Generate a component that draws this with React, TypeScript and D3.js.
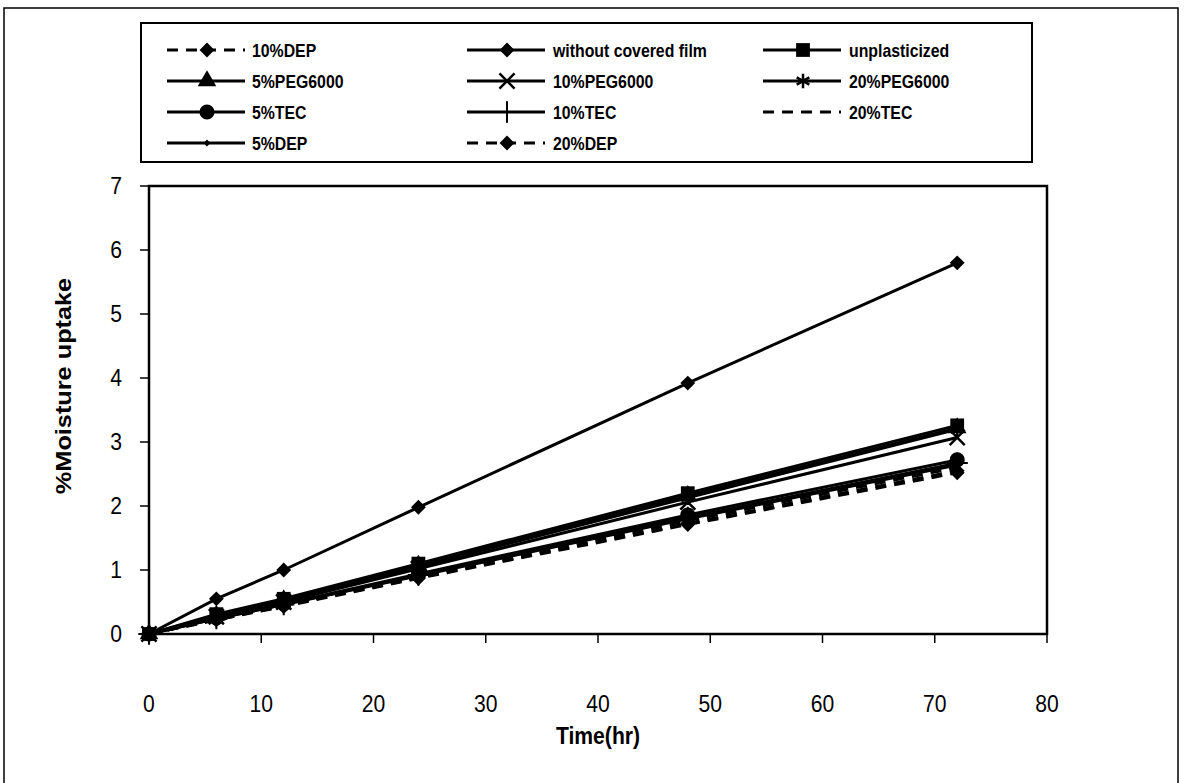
import React from "react";
import * as d3 from "d3";

const timeHr = [0, 6, 12, 24, 48, 72];
const xTicks = [0, 10, 20, 30, 40, 50, 60, 70, 80];
const yTicks = [0, 1, 2, 3, 4, 5, 6, 7];

const withoutFilm = [0, 0.55, 1.0, 1.98, 3.92, 5.8];
const unplasticized = [0, 0.31, 0.55, 1.1, 2.2, 3.26];
const peg5 = [0, 0.29, 0.53, 1.07, 2.16, 3.22];
const peg10 = [0, 0.27, 0.5, 1.02, 2.06, 3.07];
const peg20 = [0, 0.28, 0.52, 1.05, 2.13, 3.2];
const tec5 = [0, 0.25, 0.47, 0.94, 1.86, 2.72];
const tec10 = [0, 0.24, 0.46, 0.92, 1.82, 2.67];
const tec20 = [0, 0.23, 0.45, 0.9, 1.77, 2.6];
const dep5 = [0, 0.24, 0.46, 0.91, 1.8, 2.64];
const dep10 = [0, 0.22, 0.44, 0.88, 1.73, 2.55];
const dep20 = [0, 0.22, 0.43, 0.87, 1.71, 2.52];

type Marker = "diamond" | "square" | "triangle" | "x" | "asterisk" | "circle" | "plus" | "none" | "small";
interface Series { name: string; values: number[]; marker: Marker; dashed: boolean; }

const seriesList: Series[] = [
  { name: "10%DEP", values: dep10, marker: "diamond", dashed: true },
  { name: "without covered film", values: withoutFilm, marker: "diamond", dashed: false },
  { name: "unplasticized", values: unplasticized, marker: "square", dashed: false },
  { name: "5%PEG6000", values: peg5, marker: "triangle", dashed: false },
  { name: "10%PEG6000", values: peg10, marker: "x", dashed: false },
  { name: "20%PEG6000", values: peg20, marker: "asterisk", dashed: false },
  { name: "5%TEC", values: tec5, marker: "circle", dashed: false },
  { name: "10%TEC", values: tec10, marker: "plus", dashed: false },
  { name: "20%TEC", values: tec20, marker: "none", dashed: true },
  { name: "5%DEP", values: dep5, marker: "small", dashed: false },
  { name: "20%DEP", values: dep20, marker: "diamond", dashed: true },
];

const W = 1185;
const H = 783;
const plotL = 149, plotR = 1047, plotT = 186, plotB = 634;

const xScale = d3.scaleLinear().domain([0, 80]).range([plotL, plotR]);
const yScale = d3.scaleLinear().domain([0, 7]).range([plotB, plotT]);

function MarkerShape({ type, x, y }: { type: Marker; x: number; y: number }) {
  const t = `translate(${x},${y})`;
  switch (type) {
    case "diamond":
      return <path transform={t} d={d3.symbol(d3.symbolDiamond2, 140)()!} fill="#000" />;
    case "square":
      return <path transform={t} d={d3.symbol(d3.symbolSquare, 190)()!} fill="#000" />;
    case "triangle":
      return <path transform={t} d={d3.symbol(d3.symbolTriangle, 150)()!} fill="#000" />;
    case "circle":
      return <path transform={t} d={d3.symbol(d3.symbolCircle, 180)()!} fill="#000" />;
    case "x":
      return <path transform={t} d={d3.symbol(d3.symbolX, 150)()!} fill="none" stroke="#000" strokeWidth={2.5} />;
    case "asterisk":
      return <path transform={t} d={d3.symbol(d3.symbolAsterisk, 150)()!} fill="none" stroke="#000" strokeWidth={2.5} />;
    case "plus":
      return <path transform={t} d={d3.symbol(d3.symbolPlus, 150)()!} fill="none" stroke="#000" strokeWidth={2} />;
    case "small":
      return <path transform={t} d={d3.symbol(d3.symbolDiamond2, 30)()!} fill="#000" />;
    default:
      return null;
  }
}

const legendLineX = [167, 467, 763];
const legendTextX = [252, 553, 849];
const legendRows = [50, 81, 112, 143];

export default function App() {
  const line = d3.line<number>().x((_, i) => xScale(timeHr[i])).y((v) => yScale(v));
  const drawOrder = [...seriesList].reverse();
  const font = "Arial, 'Liberation Sans', sans-serif";
  return (
    <svg width={W} height={H} style={{ position: "absolute", left: 0, top: 0, background: "#fff" }}>
      <rect x={0} y={0} width={W} height={H} fill="#fff" />
      {/* outer frame */}
      <rect x={4} y={8} width={1174} height={800} fill="none" stroke="#000" strokeWidth={1.5} />
      {/* legend */}
      <rect x={141} y={23} width={891} height={139} fill="#fff" stroke="#000" strokeWidth={2} />
      {seriesList.map((s, i) => {
        const col = i % 3;
        const row = Math.floor(i / 3);
        const x0 = legendLineX[col];
        const y0 = legendRows[row];
        return (
          <g key={s.name}>
            <line x1={x0} x2={x0 + 78} y1={y0} y2={y0} stroke="#000" strokeWidth={3}
              strokeDasharray={s.dashed ? "11,8" : undefined} />
            <MarkerShape type={s.marker} x={x0 + 40} y={y0} />
            <text transform={`translate(${legendTextX[col]},${y0 + 7}) scale(0.88,1)`} fontFamily={font} fontSize={18} fontWeight="bold">{s.name}</text>
          </g>
        );
      })}
      {/* plot area */}
      <rect x={plotL} y={plotT} width={plotR - plotL} height={plotB - plotT} fill="none" stroke="#000" strokeWidth={2.5} />
      {yTicks.map((v) => (
        <g key={"y" + v}>
          <line x1={plotL - 9} x2={plotL} y1={yScale(v)} y2={yScale(v)} stroke="#000" strokeWidth={1.5} />
          <text transform={`translate(${plotL - 27},${yScale(v) + 8}) scale(0.92,1)`} textAnchor="end" fontFamily={font} fontSize={23}>{v}</text>
        </g>
      ))}
      {xTicks.map((v) => (
        <g key={"x" + v}>
          <line x1={xScale(v)} x2={xScale(v)} y1={plotB} y2={plotB + 9} stroke="#000" strokeWidth={1.5} />
          <text transform={`translate(${xScale(v)},${plotB + 78}) scale(0.92,1)`} textAnchor="middle" fontFamily={font} fontSize={23}>{v}</text>
        </g>
      ))}
      <text transform={`translate(${xScale(40)},${744}) scale(0.92,1)`} textAnchor="middle" fontFamily={font} fontSize={23} fontWeight="bold">Time(hr)</text>
      <text transform={`translate(${71},${386}) rotate(-90) scale(1.15,1)`} textAnchor="middle" fontFamily={font} fontSize={22} fontWeight="bold">%Moisture uptake</text>
      {/* series */}
      {drawOrder.map((s) => (
        <g key={"s" + s.name}>
          <path d={line(s.values)!} fill="none" stroke="#000" strokeWidth={3}
            strokeDasharray={s.dashed ? "11,8" : undefined} />
          {s.values.map((v, i) => (
            <MarkerShape key={i} type={s.marker} x={xScale(timeHr[i])} y={yScale(v)} />
          ))}
        </g>
      ))}
    </svg>
  );
}
